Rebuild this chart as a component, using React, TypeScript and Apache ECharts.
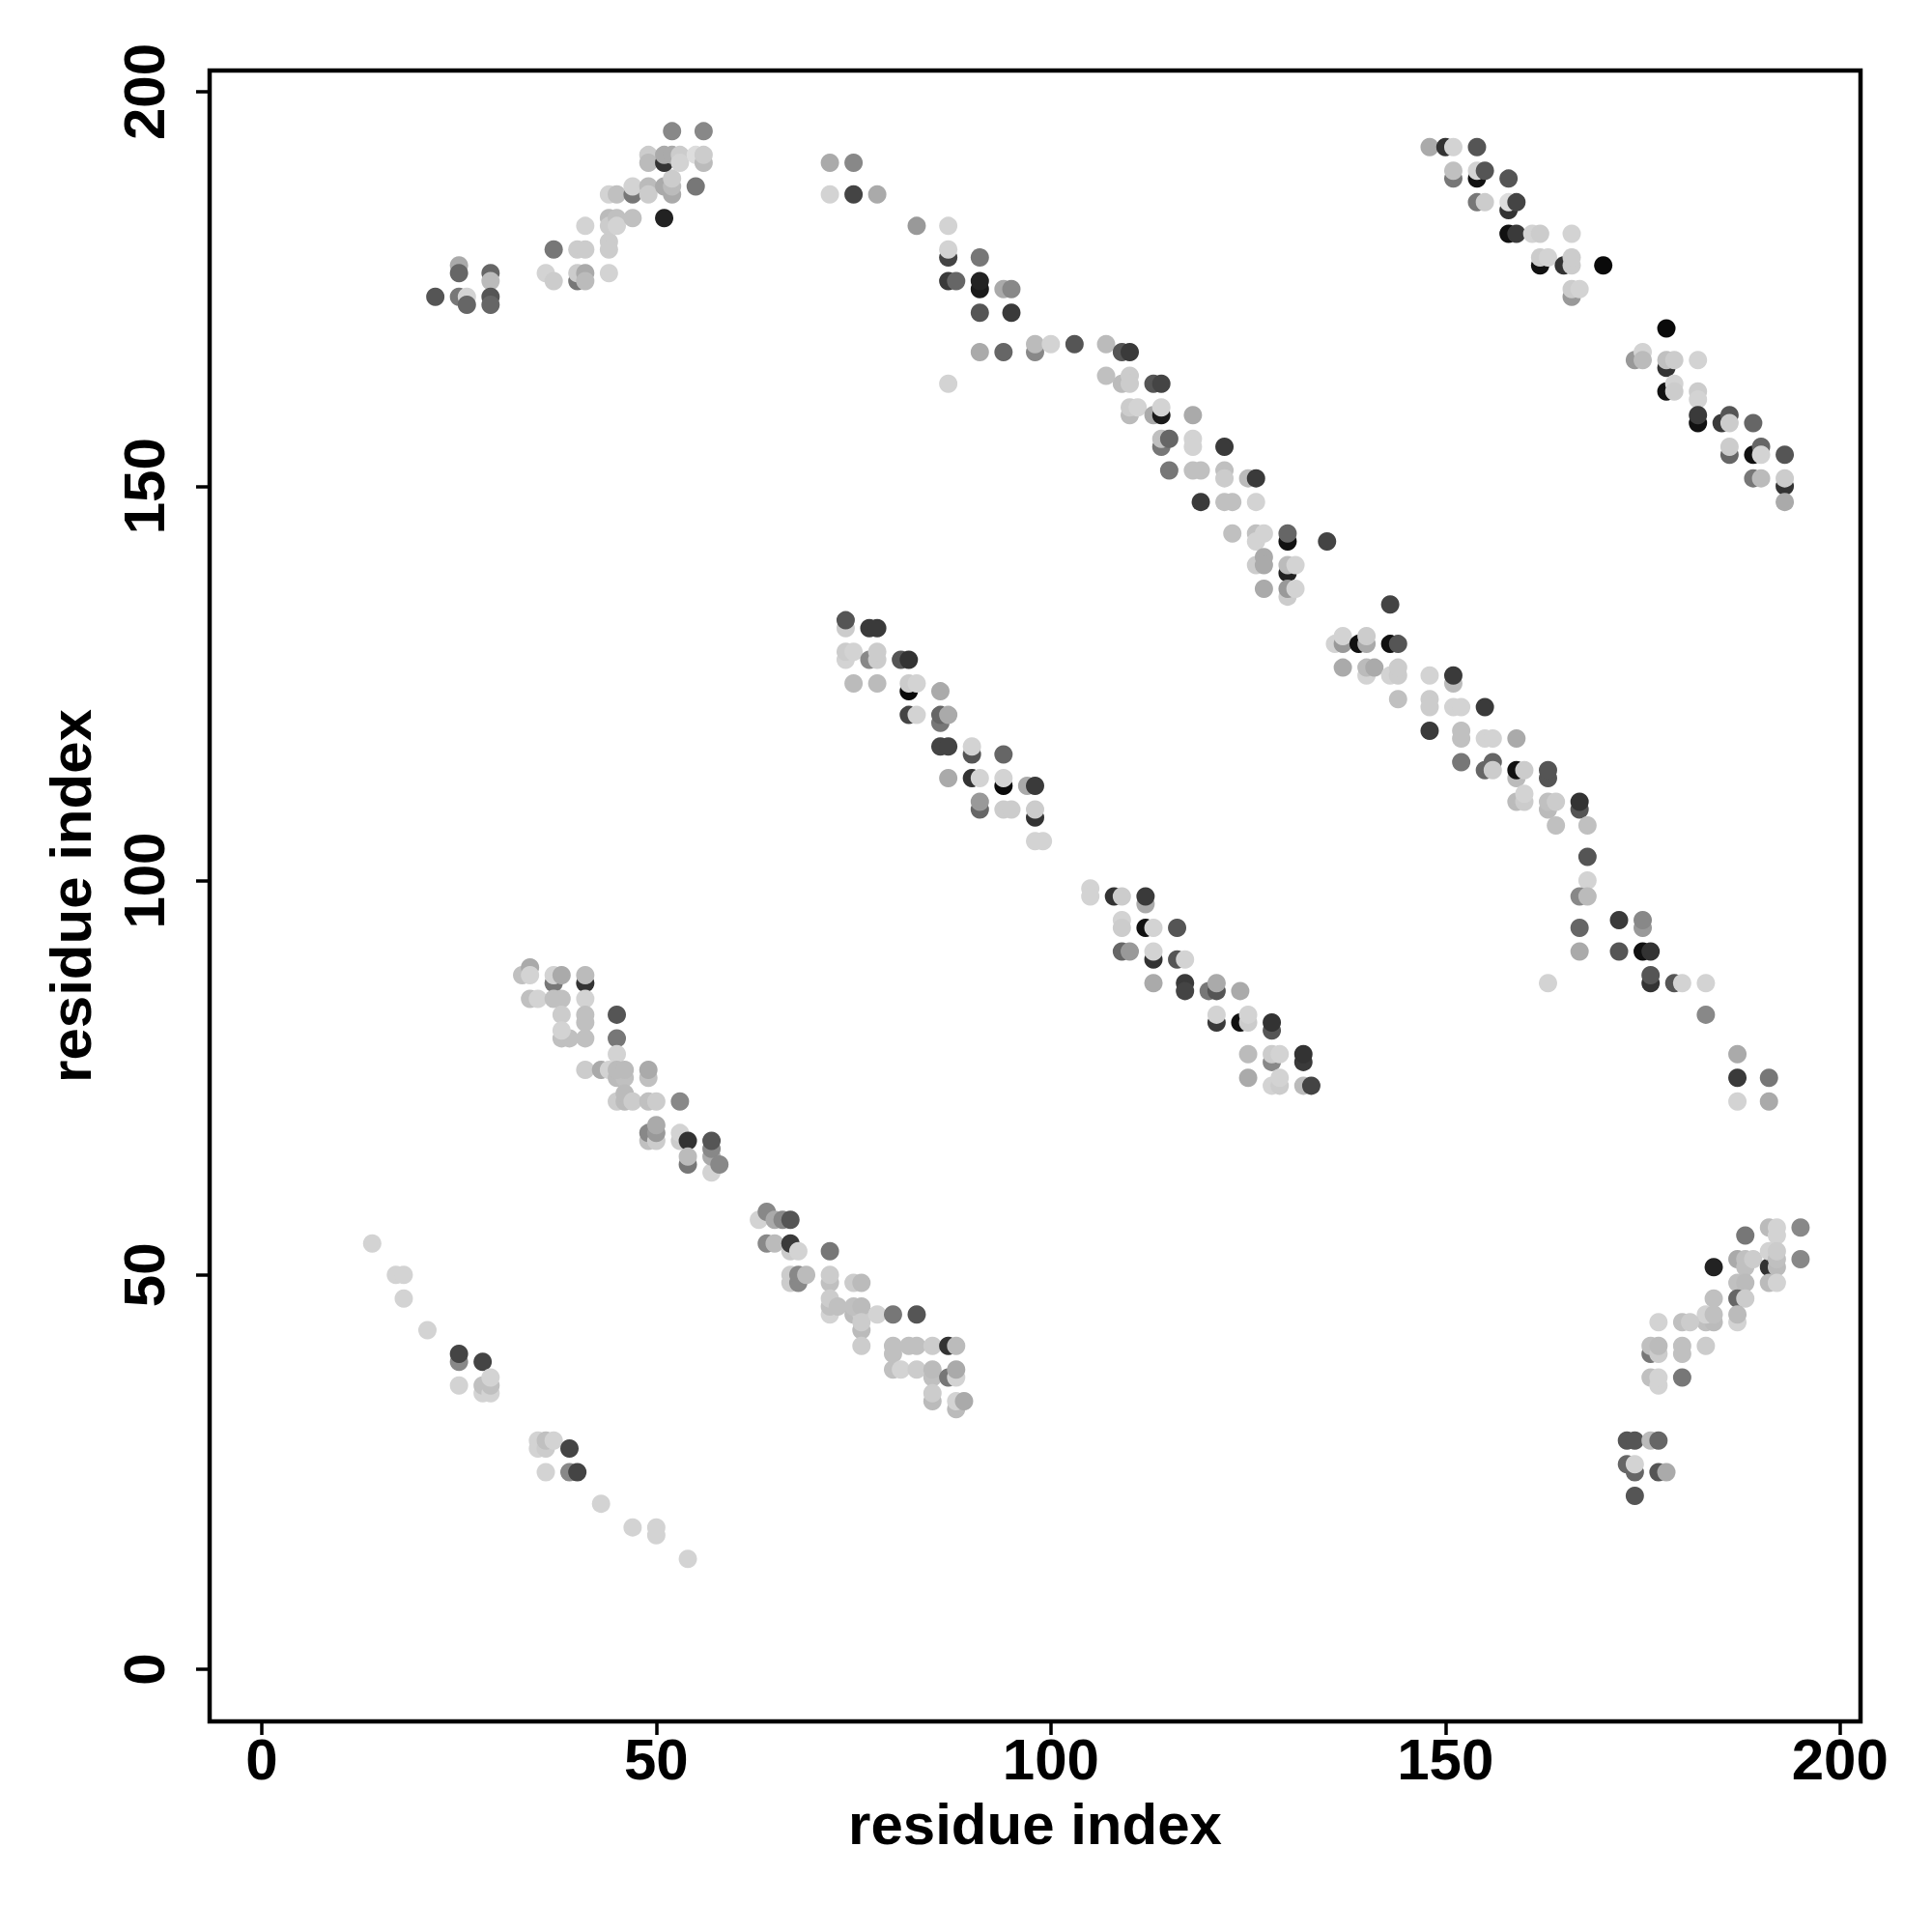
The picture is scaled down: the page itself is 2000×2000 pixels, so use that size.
import React, { useEffect, useRef } from "react";
import * as echarts from "echarts";

// residue-index tick labels
const xTicks = [0, 50, 100, 150, 200];
const yTicks = [0, 50, 100, 150, 200];
const axisTitle = "residue index";

// each contact: [residue i, residue j, grey level 0 (black) .. 255 (white)]
const clusterA: number[][] = [
  [22, 174, 85], [25, 178, 170], [25, 177, 102], [25, 174, 119], [26, 174, 211], [26, 173, 102],
  [29, 177, 102], [29, 176, 187], [29, 174, 85], [29, 173, 102],
  [36, 177, 211], [37, 176, 204], [37, 180, 119], [40, 180, 204], [41, 180, 204], [41, 183, 211],
  [40, 176, 119], [40, 177, 204], [41, 177, 170], [41, 176, 187],
  [44, 177, 211], [44, 181, 204], [44, 180, 204], [44, 184, 187], [44, 183, 204], [45, 184, 192], [45, 183, 211], [47, 184, 192],
  [44, 187, 211], [45, 187, 192], [47, 187, 119], [47, 188, 211], [49, 188, 187], [49, 187, 204],
  [51, 188, 170], [52, 187, 170], [52, 188, 187], [52, 189, 204], [51, 184, 34], [55, 188, 119],
  [49, 192, 204], [49, 191, 187], [51, 191, 51], [51, 192, 170], [52, 192, 170], [53, 192, 204], [53, 191, 211],
  [55, 192, 221], [56, 191, 187], [56, 192, 204],
  [52, 195, 136], [56, 195, 136],
];

const clusterB: number[][] = [
  [72, 191, 170], [75, 191, 136], [72, 187, 211], [75, 187, 68], [78, 187, 170],
  [83, 183, 153], [87, 183, 211], [87, 179, 68], [87, 180, 211], [91, 179, 119],
  [87, 176, 58], [88, 176, 102], [91, 175, 26], [91, 176, 34], [94, 175, 170], [95, 175, 136],
  [91, 172, 85], [95, 172, 58], [91, 167, 170], [94, 167, 102], [98, 167, 136], [98, 168, 187],
  [100, 168, 211], [103, 168, 85], [87, 163, 211],
];

const clusterC: number[][] = [
  [107, 168, 187], [109, 167, 85], [110, 167, 58],
  [107, 164, 192], [109, 163, 187], [110, 164, 204], [110, 163, 204], [113, 163, 85], [114, 163, 68],
  [110, 159, 187], [110, 160, 204], [111, 160, 211], [113, 159, 170], [114, 159, 26], [114, 160, 211], [118, 159, 170],
  [114, 155, 119], [114, 156, 192], [115, 156, 102], [118, 156, 211], [118, 155, 211], [122, 155, 58],
  [115, 152, 119], [118, 152, 192], [119, 152, 192], [122, 152, 192], [122, 151, 204], [125, 151, 187], [126, 151, 58],
  [119, 148, 58], [122, 148, 192], [123, 148, 192], [126, 148, 211],
  [123, 144, 192], [126, 144, 192], [126, 143, 211], [127, 144, 211], [130, 143, 17], [130, 144, 102], [135, 143, 68],
  [126, 140, 204], [127, 141, 170], [127, 140, 170], [130, 139, 34], [130, 140, 187], [131, 140, 211],
  [127, 137, 170], [130, 136, 204], [130, 137, 153], [131, 137, 211],
];

const clusterD: number[][] = [
  [148, 193, 170], [150, 193, 51], [151, 193, 211], [154, 193, 85],
  [151, 189, 119], [151, 190, 192], [154, 189, 17], [154, 190, 211], [155, 190, 85], [158, 189, 85],
  [154, 186, 119], [155, 186, 204], [158, 185, 51], [158, 186, 221], [159, 186, 68],
  [158, 182, 17], [159, 182, 58], [161, 182, 211], [162, 182, 204], [166, 182, 211],
  [162, 178, 17], [162, 179, 204], [163, 179, 211], [165, 178, 51], [166, 178, 204], [166, 179, 204], [170, 178, 10],
  [166, 174, 153], [166, 175, 204], [167, 175, 211],
  [178, 170, 10],
  [174, 166, 153], [175, 167, 211], [175, 166, 187], [178, 165, 51], [178, 166, 192], [179, 166, 204], [182, 166, 211],
  [178, 162, 17], [179, 163, 211], [179, 162, 204], [182, 162, 204], [182, 161, 211],
  [182, 158, 17], [182, 159, 58], [185, 158, 58], [186, 159, 85], [186, 158, 204], [189, 158, 102],
  [186, 154, 102], [186, 155, 204], [189, 154, 17], [190, 155, 102], [190, 154, 211], [193, 154, 85],
  [189, 151, 119], [190, 151, 187], [193, 150, 51], [193, 151, 204], [193, 148, 170],
];

const clusterE: number[][] = [
  [74, 132, 204], [74, 133, 85], [77, 132, 58], [78, 132, 58],
  [74, 128, 211], [74, 129, 204], [75, 129, 211], [77, 128, 136], [78, 128, 204], [78, 129, 204], [81, 128, 85], [82, 128, 51],
  [75, 125, 187], [78, 125, 187], [82, 124, 10], [82, 125, 204], [83, 125, 211], [86, 124, 170],
  [82, 121, 68], [83, 121, 211], [86, 120, 119], [86, 121, 102], [87, 121, 170],
  [86, 117, 68], [87, 117, 68], [90, 116, 85], [90, 117, 211], [94, 116, 102],
  [87, 113, 170], [90, 113, 51], [91, 113, 211], [94, 112, 10], [94, 113, 211], [97, 112, 170], [98, 112, 58],
  [91, 109, 102], [91, 110, 153], [94, 109, 204], [95, 109, 204], [98, 108, 51], [98, 109, 204],
  [98, 105, 211], [99, 105, 211],
];

const clusterF: number[][] = [
  [143, 135, 68],
  [136, 130, 211], [137, 130, 153], [137, 131, 211], [139, 130, 17], [140, 130, 170], [140, 131, 204], [143, 130, 17], [144, 130, 85],
  [137, 127, 170], [140, 126, 211], [140, 127, 187], [141, 127, 170], [143, 126, 211], [144, 126, 204], [144, 127, 204],
  [148, 126, 211], [151, 125, 187], [151, 126, 58],
  [144, 123, 192], [148, 123, 204], [148, 122, 204], [151, 122, 211], [152, 122, 211], [155, 122, 58],
  [148, 119, 58], [152, 119, 192], [152, 118, 192], [155, 118, 211], [156, 118, 211], [159, 118, 170],
  [152, 115, 119], [155, 114, 102], [156, 115, 102], [156, 114, 204], [159, 113, 187], [159, 114, 17], [160, 114, 204],
  [163, 113, 85], [163, 114, 85],
  [159, 110, 187], [160, 110, 204], [160, 111, 211], [163, 109, 187], [163, 110, 192], [164, 110, 204], [167, 109, 85], [167, 110, 51],
  [164, 107, 192], [168, 107, 192], [168, 103, 85], [168, 100, 211], [167, 98, 136], [168, 98, 187],
  [167, 94, 102], [172, 95, 58], [175, 94, 153], [175, 95, 136],
  [167, 91, 170], [172, 91, 85], [175, 91, 17], [176, 91, 51], [176, 87, 51], [176, 88, 85], [163, 87, 211],
  [179, 87, 85], [180, 87, 211], [183, 87, 211], [183, 83, 136],
  [187, 78, 170], [187, 75, 58], [191, 75, 119], [187, 72, 211], [191, 72, 170],
];

const clusterG: number[][] = [
  [105, 99, 211], [105, 98, 211], [108, 98, 51], [109, 98, 204], [112, 97, 170], [112, 98, 58],
  [109, 95, 211], [109, 94, 204], [112, 94, 17], [113, 94, 211], [116, 94, 85],
  [109, 91, 102], [110, 91, 153], [113, 90, 51], [113, 91, 211], [116, 90, 85], [117, 90, 211],
  [113, 87, 170], [117, 87, 58], [117, 86, 68], [120, 86, 119], [121, 86, 85], [121, 87, 170], [124, 86, 170],
  [121, 82, 58], [121, 83, 211], [124, 82, 17], [125, 82, 204], [125, 83, 211], [128, 81, 85], [128, 82, 51],
  [125, 78, 187], [128, 77, 136], [128, 78, 204], [129, 78, 211], [132, 77, 58], [132, 78, 51],
  [125, 75, 170], [128, 74, 211], [129, 74, 204], [129, 75, 211], [132, 74, 187], [133, 74, 68],
];

const clusterH: number[][] = [
  [33, 88, 192], [34, 89, 170], [34, 88, 211], [37, 87, 119], [37, 88, 211], [38, 88, 170], [41, 87, 51], [41, 88, 187],
  [34, 85, 192], [35, 85, 211], [37, 85, 192], [38, 85, 192], [41, 85, 211],
  [38, 83, 204], [41, 82, 192], [41, 83, 192], [45, 83, 85],
  [38, 80, 192], [39, 80, 192], [38, 81, 211], [41, 80, 192], [45, 80, 119], [45, 78, 211],
  [41, 76, 204], [43, 76, 170], [44, 76, 211], [45, 75, 187], [46, 75, 192], [45, 76, 187], [46, 76, 187],
  [49, 75, 192], [49, 76, 170],
  [45, 72, 204], [46, 72, 187], [46, 73, 187], [47, 72, 204], [49, 72, 192], [50, 72, 204], [53, 72, 136],
  [49, 67, 192], [49, 68, 136], [50, 67, 204], [50, 68, 153], [50, 69, 170], [53, 67, 204], [53, 68, 211], [54, 67, 51],
  [54, 64, 119], [54, 65, 187], [57, 63, 211], [57, 65, 170], [57, 66, 136], [57, 67, 85], [58, 64, 136],
];

const clusterI: number[][] = [
  [63, 57, 211], [64, 58, 136], [65, 57, 170], [66, 57, 136], [67, 57, 85],
  [64, 54, 136], [65, 54, 187], [67, 53, 204], [67, 54, 58], [68, 53, 211], [72, 53, 119],
  [67, 49, 204], [67, 50, 204], [68, 49, 136], [68, 50, 136], [69, 50, 187], [72, 49, 192], [72, 50, 204],
  [75, 49, 204], [76, 49, 187],
  [72, 45, 211], [72, 46, 192], [72, 47, 204], [73, 46, 192], [75, 45, 187], [76, 45, 204], [75, 46, 192], [76, 46, 187],
  [76, 43, 187], [76, 44, 204], [78, 45, 211], [80, 45, 119], [83, 45, 85],
  [76, 41, 204], [80, 41, 192], [80, 40, 192], [80, 38, 192], [82, 41, 192], [83, 41, 192], [85, 41, 204], [87, 41, 51], [88, 41, 187],
  [81, 38, 211], [83, 38, 204], [85, 37, 192], [85, 38, 187], [87, 37, 119], [88, 37, 211], [88, 38, 170],
  [85, 34, 187], [85, 35, 204], [88, 33, 187], [88, 34, 211], [89, 34, 170],
];

const clusterJ: number[][] = [
  [14, 54, 211], [17, 50, 211], [18, 50, 211], [18, 47, 211], [21, 43, 211],
  [25, 39, 136], [25, 40, 68], [28, 39, 68], [25, 36, 211],
  [28, 35, 211], [28, 36, 192], [29, 35, 211], [29, 36, 192], [29, 37, 211],
  [35, 28, 211], [35, 29, 211], [36, 28, 204], [36, 29, 192], [37, 29, 211], [39, 28, 68],
  [36, 25, 211], [39, 25, 136], [40, 25, 68],
  [43, 21, 211], [47, 18, 211], [50, 18, 211], [50, 17, 211], [54, 14, 211],
];

const clusterK: number[][] = [
  [188, 55, 119], [191, 56, 187], [192, 55, 211], [192, 56, 211], [195, 56, 136],
  [187, 52, 170], [188, 51, 192], [188, 52, 192], [189, 52, 204], [191, 51, 51], [191, 53, 211],
  [192, 51, 187], [192, 52, 192], [192, 53, 204], [195, 52, 136], [184, 51, 34],
  [187, 49, 192], [188, 49, 187], [191, 49, 187], [192, 49, 211],
  [187, 47, 102], [188, 47, 204], [184, 47, 192],
  [183, 44, 192], [184, 44, 187], [183, 45, 211], [184, 45, 192], [187, 44, 211], [187, 45, 187],
  [177, 44, 211], [180, 44, 192], [181, 44, 204],
  [176, 40, 119], [176, 41, 192], [177, 40, 204], [177, 41, 187], [180, 40, 192], [180, 41, 192], [183, 41, 204],
  [176, 37, 192], [177, 36, 211], [177, 37, 211], [180, 37, 119],
  [173, 29, 85], [174, 29, 85], [176, 29, 187], [177, 29, 102],
  [173, 26, 102], [174, 25, 102], [174, 26, 211], [177, 25, 85], [178, 25, 170], [174, 22, 85],
];

const allClusters = [
  clusterA, clusterB, clusterC, clusterD, clusterE, clusterF,
  clusterG, clusterH, clusterI, clusterJ, clusterK,
];

const FONT = "'Liberation Sans', Arial, Helvetica, sans-serif";

export default function App() {
  const ref = useRef<HTMLDivElement>(null);

  useEffect(() => {
    if (!ref.current) return;
    const chart = echarts.init(ref.current, null, { renderer: "svg" });

    const points = allClusters.flat().map(([i, j, g]) => ({
      value: [i, j, g],
      itemStyle: { color: `rgb(${g},${g},${g})` },
    }));

    const labelStyle = {
      fontSize: 60,
      fontWeight: "bold" as const,
      fontFamily: FONT,
      color: "#000",
    };

    chart.setOption({
      animation: false,
      backgroundColor: "#ffffff",
      grid: {
        left: 217,
        right: 74,
        top: 73,
        bottom: 218,
        show: true,
        borderColor: "#000",
        borderWidth: 4.5,
        backgroundColor: "transparent",
      },
      xAxis: {
        type: "value",
        min: -6.6,
        max: 202.6,
        axisLine: { show: true, onZero: false, lineStyle: { color: "#000", width: 4 } },
        axisTick: { show: true, customValues: xTicks, length: 14, lineStyle: { color: "#000", width: 3.5 } },
        axisLabel: { customValues: xTicks, margin: 9, ...labelStyle },
        splitLine: { show: false },
        name: axisTitle,
        nameLocation: "middle",
        nameGap: 76,
        nameTextStyle: labelStyle,
      },
      yAxis: {
        type: "value",
        min: -6.6,
        max: 202.7,
        axisLine: { show: true, onZero: false, lineStyle: { color: "#000", width: 4 } },
        axisTick: { show: true, customValues: yTicks, length: 14, lineStyle: { color: "#000", width: 3.5 } },
        axisLabel: { customValues: yTicks, rotate: 90, margin: 38, ...labelStyle },
        splitLine: { show: false },
        name: axisTitle,
        nameLocation: "middle",
        nameGap: 114,
        nameTextStyle: labelStyle,
      },
      series: [
        {
          type: "scatter",
          symbol: "circle",
          symbolSize: 19,
          data: points,
          itemStyle: { opacity: 1 },
        },
      ],
    });

    return () => chart.dispose();
  }, []);

  return (
    <div
      ref={ref}
      style={{ position: "fixed", left: 0, top: 0, width: 2000, height: 2000, background: "#fff" }}
    />
  );
}
